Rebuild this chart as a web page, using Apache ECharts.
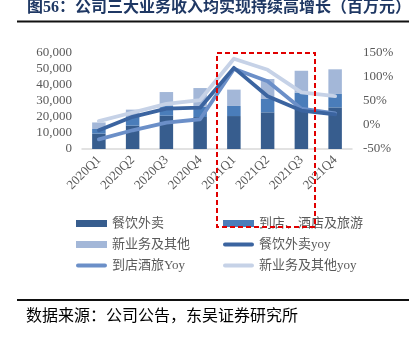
<!DOCTYPE html>
<html>
<head>
<meta charset="utf-8">
<script src="https://cdn.jsdelivr.net/npm/echarts@6/dist/echarts.min.js"></script>
<style>
  html, body { margin: 0; padding: 0; background: #fff; }
  #chart { width: 418px; height: 340px; }
</style>
</head>
<body>
<div id="chart"></div>
<script>
// Quarterly revenue by segment (RMB million) and year-over-year growth (%)
const quarters = ['2020Q1', '2020Q2', '2020Q3', '2020Q4', '2021Q1', '2021Q2', '2021Q3', '2021Q4'];
const foodDelivery = [9600, 14600, 20800, 20000, 20600, 22900, 24400, 26000];
const inStoreTravel = [2900, 5800, 6200, 6400, 6300, 8350, 10800, 8400];
const newInitiatives = [4100, 4200, 8600, 11700, 10200, 12500, 13700, 15400];
const foodDeliveryYoy = [-11, 17, 34, 36, 119, 60, 30, 22];
const inStoreTravelYoy = [-30, -11, 5, 12, 117, 91, 34, 24];
const newInitiativesYoy = [8, 26, 44, 52, 138, 115, 68, 60];
const leftTicks = { min: 0, max: 60000, step: 10000 };
const rightTicks = { min: -50, max: 150, step: 50 };

const latin = '"Liberation Serif", "Noto Sans CJK SC", serif';
const grey = '#595959';
// rounded stroke used as the legend swatch of the growth lines
const lineIcon = 'path://M2,0 L29,0 A2,2 0 0 1 29,4 L2,4 A2,2 0 0 1 2,0 Z';

const chart = echarts.init(document.getElementById('chart'), null, { renderer: 'canvas' });

const lineSeries = (name, data, color, z) => ({
  name, type: 'line', yAxisIndex: 1, data,
  symbol: 'none', z,
  lineStyle: { color, width: 3.8, cap: 'round', join: 'round' },
  itemStyle: { color }
});

const barSeries = (name, data, color) => ({
  name, type: 'bar', stack: 'rev', data, barWidth: '40%',
  itemStyle: { color }
});

const legendText = { color: grey, fontFamily: latin, fontSize: 13 };

chart.setOption({
  animation: false,
  backgroundColor: '#fff',
  grid: { left: 82, right: 66, top: 53, bottom: 191, containLabel: false },
  xAxis: {
    type: 'category', data: quarters,
    axisLine: { lineStyle: { color: '#D9D9D9', width: 1.5 } },
    axisTick: { show: false },
    axisLabel: { rotate: 45, margin: 9, color: grey, fontFamily: latin, fontSize: 13, interval: 0 }
  },
  yAxis: [
    {
      type: 'value', min: leftTicks.min, max: leftTicks.max, interval: leftTicks.step,
      splitLine: { show: false }, axisLine: { show: false }, axisTick: { show: false },
      axisLabel: {
        margin: 10, color: grey, fontFamily: latin, fontSize: 13,
        formatter: v => v.toLocaleString('en-US')
      }
    },
    {
      type: 'value', min: rightTicks.min, max: rightTicks.max, interval: rightTicks.step,
      splitLine: { show: false }, axisLine: { show: false }, axisTick: { show: false },
      axisLabel: { margin: 11, color: grey, fontFamily: latin, fontSize: 13, formatter: v => v + '%' }
    }
  ],
  legend: [
    {
      orient: 'vertical', left: 71, top: 212,
      itemWidth: 31, itemHeight: 7, itemGap: 8, symbolKeepAspect: true,
      textStyle: legendText,
      data: [
        { name: '餐饮外卖', icon: 'rect' },
        { name: '新业务及其他', icon: 'rect' },
        { name: '到店酒旅Yoy', icon: lineIcon }
      ]
    },
    {
      orient: 'vertical', left: 218, top: 212,
      itemWidth: 31, itemHeight: 7, itemGap: 8, symbolKeepAspect: true,
      textStyle: legendText,
      data: [
        { name: '到店、酒店及旅游', icon: 'rect' },
        { name: '餐饮外卖yoy', icon: lineIcon },
        { name: '新业务及其他yoy', icon: lineIcon }
      ]
    }
  ],
  series: [
    barSeries('餐饮外卖', foodDelivery, '#375D8E'),
    barSeries('到店、酒店及旅游', inStoreTravel, '#4A7DBA'),
    barSeries('新业务及其他', newInitiatives, '#A3B7D8'),
    lineSeries('新业务及其他yoy', newInitiativesYoy, '#C6D2E7', 3),
    lineSeries('到店酒旅Yoy', inStoreTravelYoy, '#6B8FC8', 4),
    lineSeries('餐饮外卖yoy', foodDeliveryYoy, '#3B64A0', 5)
  ],
  graphic: [
    {
      type: 'text', left: 27, top: 0,
      style: {
        text: '图56：公司三大业务收入均实现持续高增长（百万元）',
        fill: '#1F3864', font: 'bold 16px "Liberation Serif", "Noto Sans CJK SC", serif'
      }
    },
    { type: 'line', shape: { x1: 17, y1: 21.5, x2: 409, y2: 21.5 }, style: { stroke: '#111', lineWidth: 2 } },
    {
      type: 'rect', z: 100,
      shape: { x: 217, y: 53, width: 98, height: 174 },
      style: { fill: 'none', stroke: '#E00000', lineWidth: 2, lineDash: [5, 3] }
    },
    { type: 'line', shape: { x1: 17, y1: 300, x2: 409, y2: 300 }, style: { stroke: '#111', lineWidth: 2 } },
    {
      type: 'text', left: 26, top: 307,
      style: {
        text: '数据来源：公司公告，东吴证券研究所',
        fill: '#000', font: '16px "Noto Sans CJK SC", sans-serif'
      }
    }
  ]
});
</script>
</body>
</html>
